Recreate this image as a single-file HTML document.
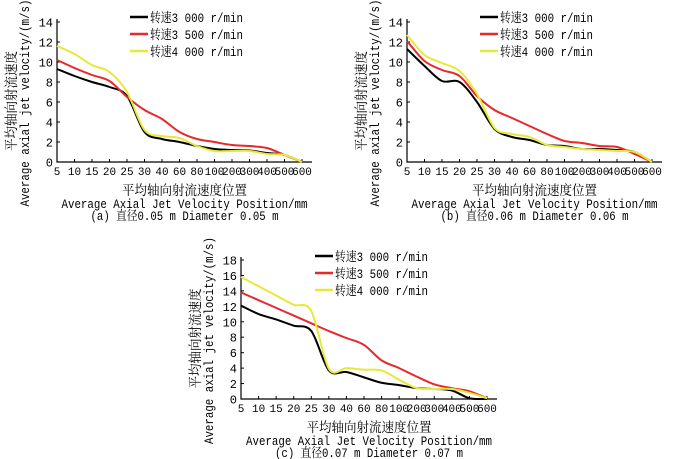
<!DOCTYPE html>
<html><head><meta charset="utf-8"><style>
html,body{margin:0;padding:0;background:#fff;}
svg{display:block;font-family:"Liberation Mono","Noto Serif CJK SC",monospace;}
</style></head><body>
<svg id="fig" width="700" height="459" viewBox="0 0 700 459"></svg>
<script>
const categories = ["5","10","15","20","25","30","40","60","80","100","200","300","400","500","600"];
const ticksA = [0,2,4,6,8,10,12,14];
const ticksC = [0,2,4,6,8,10,12,14,16,18];
const a3000 = [9.3,8.6,8.0,7.5,6.6,3.0,2.3,2.0,1.6,1.3,1.2,1.15,0.9,0.7,0];
const a3500 = [10.2,9.4,8.7,8.1,6.5,5.2,4.3,3.0,2.3,2.0,1.7,1.6,1.4,0.7,0];
const a4000 = [11.6,10.8,9.7,9.0,7.0,3.2,2.6,2.4,1.6,1.1,1.1,1.1,0.8,0.7,0];
const b3000 = [11.3,9.6,8.1,8.0,6.0,3.3,2.5,2.2,1.7,1.6,1.3,1.3,1.2,1.0,0];
const b3500 = [12.1,10.1,9.2,8.6,6.6,5.2,4.4,3.6,2.8,2.1,1.9,1.6,1.5,0.8,0];
const b4000 = [12.7,10.7,9.9,9.1,6.8,3.4,2.8,2.5,1.7,1.5,1.3,1.2,1.1,1.0,0];
const c3000 = [12.1,11.0,10.3,9.5,8.8,3.7,3.5,2.8,2.1,1.8,1.4,1.3,1.1,0.1,0];
const c3500 = [13.8,12.8,11.8,10.8,9.8,8.8,7.9,7.0,5.0,4.0,2.9,1.9,1.4,1.0,0.1];
const c4000 = [15.8,14.6,13.4,12.2,11.4,3.9,4.0,3.8,3.7,2.5,1.4,1.3,1.3,0.8,0.1];
const legendLabels = ["转速3 000 r/min","转速3 500 r/min","转速4 000 r/min"];
const colors = ["#000000","#e8282a","#e8e83a"];

const NS="http://www.w3.org/2000/svg";
const svg=document.getElementById('fig');
function mk(tag,attrs,parent){const e=document.createElementNS(NS,tag);for(const k in attrs)e.setAttribute(k,attrs[k]);(parent||svg).appendChild(e);return e;}
function smooth(pts){let d="M"+pts[0][0]+","+pts[0][1];for(let i=0;i<pts.length-1;i++){const p0=pts[i-1]||pts[i],p1=pts[i],p2=pts[i+1],p3=pts[i+2]||p2;const t=0.16;const c1x=p1[0]+(p2[0]-p0[0])*t,c1y=p1[1]+(p2[1]-p0[1])*t,c2x=p2[0]-(p3[0]-p1[0])*t,c2y=p2[1]-(p3[1]-p1[1])*t;d+=" C"+c1x+","+c1y+" "+c2x+","+c2y+" "+p2[0]+","+p2[1];}return d;}

function panel(id,x0,x1,yTop,y0,ticks,series,legX,legY,cap){
  const g=mk('g',{});
  
  
  const ymax=ticks[ticks.length-1];
  const xs=i=>x0+(x1-x0)*i/(categories.length-1);
  const ys=v=>y0-(y0-yTop)*v/ymax;
  const ax=mk('path',{d:`M${x0},${yTop-3}V${y0}H${x1+10}`,stroke:'#000','stroke-width':1.2,fill:'none'},g);
  
  
  ticks.forEach(v=>{
    mk('line',{x1:x0,x2:x0+3,y1:ys(v),y2:ys(v),stroke:'#000'},g);
    const t=mk('text',{x:x0-4,y:ys(v)+4.5,'text-anchor':'end','font-size':12},g);t.textContent=v;
    
    
  });
  categories.forEach((c,i)=>{
    mk('line',{x1:xs(i),x2:xs(i),y1:y0,y2:y0-3,stroke:'#000'},g);
    const t=mk('text',{x:xs(i),y:y0+13,'text-anchor':'middle','font-size':11},g);t.textContent=c;
    
    
  });
  series.forEach((s,k)=>{
    const p=mk('path',{d:smooth(s.map((v,i)=>[xs(i),ys(v)])),stroke:colors[k],'stroke-width':2,fill:'none'},g);
    
    
  });
  legendLabels.forEach((l,k)=>{
    const yy=legY+k*17;
    mk('line',{x1:legX,x2:legX+18,y1:yy,y2:yy,stroke:colors[k],'stroke-width':2.5},g);
    const t=mk('text',{x:legX+20,y:yy+5,'font-size':13,textLength:93,lengthAdjust:'spacingAndGlyphs'},g);t.textContent=l;
    
    
  });
  const mid=(x0+x1)/2+5;
  const t1=mk('text',{x:mid,y:y0+33,'text-anchor':'middle','font-size':13.5,textLength:125,lengthAdjust:'spacingAndGlyphs'},g);t1.textContent="平均轴向射流速度位置";
  
  
  const t2=mk('text',{x:mid,y:y0+46,'text-anchor':'middle','font-size':13,textLength:246,lengthAdjust:'spacingAndGlyphs'},g);t2.textContent="Average Axial Jet Velocity Position/mm";
  
  
  const t3=mk('text',{x:mid,y:y0+58,'text-anchor':'middle','font-size':13,textLength:188,lengthAdjust:'spacingAndGlyphs'},g);t3.textContent=cap;
  
  
  const cy=(yTop+y0)/2;
  const yt=mk('text',{transform:`translate(${x0-41},${cy+9}) rotate(-90)`,'text-anchor':'middle','font-size':13.5,textLength:100,lengthAdjust:'spacingAndGlyphs'},g);yt.textContent="平均轴向射流速度";
  
  
  const yt2=mk('text',{transform:`translate(${x0-28},${cy+11}) rotate(-90)`,'text-anchor':'middle','font-size':13,textLength:207,lengthAdjust:'spacingAndGlyphs'},g);yt2.textContent="Average axial jet velocity/(m/s)";
  
  
}
panel('a',57,302,22,162,ticksA,[a3000,a3500,a4000],130,17,"(a) 直径0.05 m Diameter 0.05 m");
panel('b',407,652,22,162,ticksA,[b3000,b3500,b4000],480,17,"(b) 直径0.06 m Diameter 0.06 m");
panel('c',241,487,260,399,ticksC,[c3000,c3500,c4000],315,256,"(c) 直径0.07 m Diameter 0.07 m");
</script>
</body></html>
